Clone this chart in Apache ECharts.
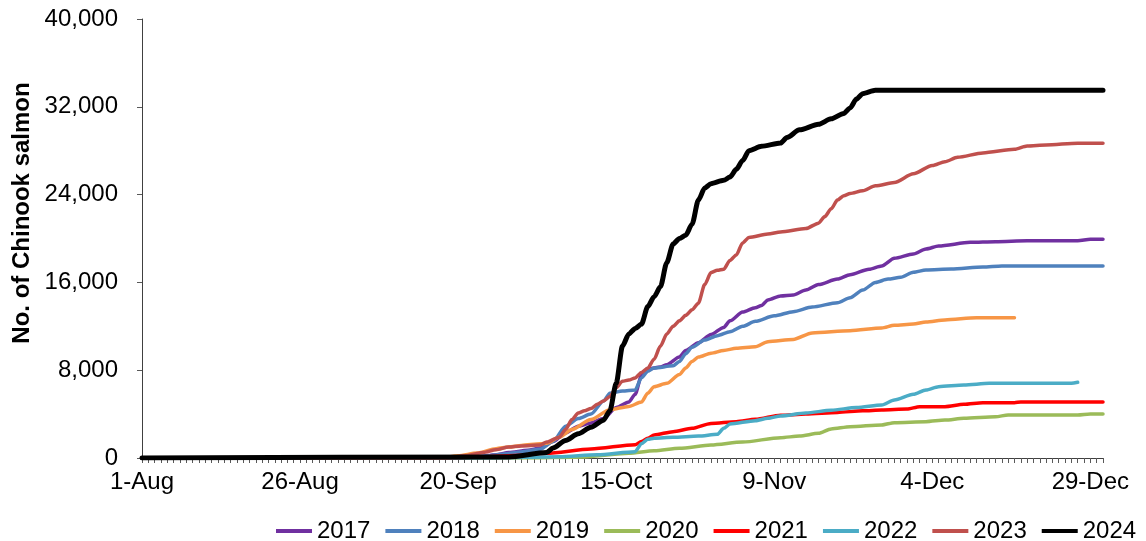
<!DOCTYPE html>
<html>
<head>
<meta charset="utf-8">
<script src="https://cdn.jsdelivr.net/npm/echarts@6/dist/echarts.min.js"></script>
<style>
html,body{margin:0;padding:0;background:#fff;}
#chart{width:1146px;height:541px;}
</style>
</head>
<body>
<div id="chart"></div>
<script>
// Axis categories: daily dates 1-Aug .. 31-Dec
const months = [['Aug', 31], ['Sep', 30], ['Oct', 31], ['Nov', 30], ['Dec', 31]];
const categories = [];
months.forEach(([m, n]) => { for (let d = 1; d <= n; d++) categories.push(d + '-' + m); });

const years = ['2017', '2018', '2019', '2020', '2021', '2022', '2023', '2024'];
const colors = ['#7030A0', '#4F81BD', '#F79646', '#9BBB59', '#FF0000', '#4BACC6', '#C0504D', '#000000'];
const yTicks = [0, 8000, 16000, 24000, 32000, 40000];

// Cumulative counts: [date, value]
const s2017 = [['1-Aug',0],['20-Sep',0],['23-Sep',100],['26-Sep',300],['28-Sep',500],['1-Oct',700],['3-Oct',900],['5-Oct',1500],['7-Oct',2300],['9-Oct',2900],['11-Oct',3200],['13-Oct',3600],['15-Oct',4600],['17-Oct',5100],['18-Oct',5800],['19-Oct',7500],['20-Oct',8100],['22-Oct',8300],['23-Oct',8500],['25-Oct',9200],['26-Oct',9800],['28-Oct',10500],['30-Oct',11250],['1-Nov',11900],['2-Nov',12500],['4-Nov',13300],['6-Nov',13700],['7-Nov',13900],['8-Nov',14400],['10-Nov',14760],['12-Nov',14850],['14-Nov',15300],['16-Nov',15800],['19-Nov',16300],['21-Nov',16700],['24-Nov',17200],['26-Nov',17500],['28-Nov',18200],['1-Dec',18590],['3-Dec',19040],['5-Dec',19320],['10-Dec',19650],['14-Dec',19710],['19-Dec',19800],['27-Dec',19800],['29-Dec',19930],['31-Dec',19930]];
const s2018 = [['1-Aug',0],['20-Sep',0],['24-Sep',150],['27-Sep',350],['30-Sep',550],['3-Oct',800],['5-Oct',1500],['7-Oct',2900],['9-Oct',3600],['11-Oct',4000],['13-Oct',5200],['14-Oct',5900],['16-Oct',6100],['18-Oct',6200],['19-Oct',7300],['20-Oct',7900],['21-Oct',8200],['24-Oct',8400],['25-Oct',8800],['26-Oct',9500],['27-Oct',10100],['29-Oct',10750],['31-Oct',11150],['2-Nov',11500],['4-Nov',12000],['6-Nov',12450],['9-Nov',12950],['12-Nov',13330],['15-Nov',13750],['19-Nov',14150],['21-Nov',14600],['23-Nov',15300],['25-Nov',16000],['27-Nov',16300],['29-Nov',16470],['1-Dec',16920],['3-Dec',17130],['7-Dec',17220],['12-Dec',17400],['15-Dec',17500],['31-Dec',17500]];
const s2019 = [['1-Aug',0],['17-Sep',0],['20-Sep',200],['23-Sep',450],['26-Sep',850],['28-Sep',1000],['30-Sep',1150],['3-Oct',1300],['4-Oct',1350],['6-Oct',1900],['8-Oct',2600],['11-Oct',3500],['14-Oct',4400],['17-Oct',4700],['19-Oct',5100],['20-Oct',5900],['21-Oct',6500],['23-Oct',6800],['25-Oct',7600],['26-Oct',8200],['27-Oct',8800],['28-Oct',9200],['30-Oct',9550],['1-Nov',9800],['3-Nov',10000],['6-Nov',10140],['8-Nov',10600],['12-Nov',10800],['15-Nov',11400],['21-Nov',11600],['26-Nov',11850],['28-Nov',12100],['1-Dec',12200],['3-Dec',12400],['6-Dec',12580],['11-Dec',12780],['17-Dec',12780]];
const s2020 = [['1-Aug',0],['30-Sep',0],['10-Oct',100],['17-Oct',430],['21-Oct',650],['25-Oct',880],['30-Oct',1180],['4-Nov',1450],['10-Nov',1850],['13-Nov',2000],['16-Nov',2250],['18-Nov',2650],['21-Nov',2850],['26-Nov',3010],['28-Nov',3220],['3-Dec',3310],['6-Dec',3460],['9-Dec',3620],['14-Dec',3760],['16-Dec',3920],['27-Dec',3920],['29-Dec',4010],['31-Dec',4010]];
const s2021 = [['1-Aug',0],['20-Sep',0],['24-Sep',120],['30-Sep',250],['4-Oct',430],['11-Oct',820],['18-Oct',1210],['19-Oct',1500],['20-Oct',1800],['21-Oct',2100],['24-Oct',2400],['27-Oct',2700],['30-Oct',3150],['3-Nov',3310],['6-Nov',3520],['10-Nov',3900],['14-Nov',4000],['19-Nov',4150],['23-Nov',4300],['26-Nov',4370],['30-Nov',4460],['2-Dec',4680],['6-Dec',4680],['9-Dec',4890],['12-Dec',5040],['17-Dec',5040],['18-Dec',5100],['31-Dec',5100]];
const s2022 = [['1-Aug',0],['25-Sep',0],['6-Oct',120],['12-Oct',300],['18-Oct',580],['19-Oct',1300],['20-Oct',1700],['21-Oct',1800],['24-Oct',1880],['28-Oct',2000],['31-Oct',2160],['1-Nov',2700],['2-Nov',3100],['6-Nov',3400],['8-Nov',3620],['10-Nov',3830],['14-Nov',4100],['18-Nov',4350],['22-Nov',4600],['26-Nov',4830],['28-Nov',5280],['1-Dec',5800],['3-Dec',6200],['5-Dec',6500],['9-Dec',6650],['13-Dec',6800],['26-Dec',6800],['27-Dec',6900]];
const s2023 = [['1-Aug',0],['18-Sep',0],['21-Sep',200],['24-Sep',500],['26-Sep',750],['28-Sep',1000],['30-Sep',1100],['3-Oct',1180],['4-Oct',1450],['6-Oct',1900],['7-Oct',2600],['8-Oct',3500],['9-Oct',4100],['10-Oct',4300],['11-Oct',4500],['12-Oct',4900],['13-Oct',5200],['14-Oct',5600],['15-Oct',6400],['16-Oct',7000],['17-Oct',7100],['18-Oct',7300],['19-Oct',7800],['20-Oct',8200],['21-Oct',9000],['22-Oct',10200],['23-Oct',11300],['24-Oct',12000],['25-Oct',12500],['26-Oct',13000],['27-Oct',13500],['28-Oct',14100],['29-Oct',15800],['30-Oct',16900],['31-Oct',17100],['1-Nov',17200],['2-Nov',18000],['3-Nov',18500],['4-Nov',19600],['5-Nov',20100],['8-Nov',20400],['10-Nov',20600],['14-Nov',20900],['16-Nov',21400],['17-Nov',22000],['18-Nov',22700],['19-Nov',23500],['20-Nov',23900],['21-Nov',24100],['23-Nov',24350],['25-Nov',24800],['28-Nov',25100],['1-Dec',25900],['4-Dec',26650],['6-Dec',27000],['8-Dec',27400],['12-Dec',27800],['17-Dec',28130],['19-Dec',28430],['22-Dec',28520],['27-Dec',28680],['31-Dec',28680]];
const s2024 = [['1-Aug',0],['28-Sep',100],['4-Oct',500],['5-Oct',900],['7-Oct',1600],['9-Oct',2200],['11-Oct',2800],['13-Oct',3450],['14-Oct',4300],['15-Oct',6800],['16-Oct',10200],['17-Oct',11300],['18-Oct',11800],['19-Oct',12200],['20-Oct',13800],['21-Oct',14700],['22-Oct',15600],['23-Oct',17800],['24-Oct',19500],['25-Oct',20000],['26-Oct',20300],['27-Oct',21300],['28-Oct',23500],['29-Oct',24600],['30-Oct',25000],['1-Nov',25300],['2-Nov',25600],['3-Nov',26300],['4-Nov',27100],['5-Nov',28000],['7-Nov',28400],['10-Nov',28700],['11-Nov',29200],['13-Nov',29900],['16-Nov',30400],['18-Nov',30900],['20-Nov',31400],['21-Nov',31900],['22-Nov',32700],['23-Nov',33200],['25-Nov',33500],['31-Dec',33500]];

const seriesData = [s2017, s2018, s2019, s2020, s2021, s2022, s2023, s2024];
const FONT = '"Liberation Sans", Arial, sans-serif';

const chart = echarts.init(document.getElementById('chart'), null, { renderer: 'canvas' });
chart.setOption({
  animation: false,
  backgroundColor: '#ffffff',
  grid: { left: 142, right: 43, top: 19, bottom: 83, containLabel: false },
  xAxis: {
    type: 'category',
    data: categories,
    boundaryGap: false,
    axisLine: { show: true, lineStyle: { color: '#404040', width: 1 } },
    axisTick: { show: true, interval: 0, length: 5, lineStyle: { color: '#595959' } },
    axisLabel: { interval: 24, margin: 12, color: '#000', fontSize: 24, fontFamily: FONT },
    splitLine: { show: false }
  },
  yAxis: {
    type: 'value',
    min: yTicks[0],
    max: yTicks[yTicks.length - 1],
    interval: yTicks[1] - yTicks[0],
    axisLine: { show: true, lineStyle: { color: '#404040', width: 1 } },
    axisTick: { show: true, length: 5, lineStyle: { color: '#595959' } },
    axisLabel: {
      margin: 24, color: '#000', fontSize: 24, fontFamily: FONT,
      formatter: v => v.toLocaleString('en-US')
    },
    splitLine: { show: false }
  },
  legend: {
    data: years.map((y, i) => ({ name: y, icon: 'rect', itemStyle: { color: colors[i] } })),
    left: 271,
    top: 514,
    width: 875,
    itemWidth: 36,
    itemHeight: 4,
    itemGap: 15,
    textStyle: { color: '#000', fontSize: 24, fontFamily: FONT }
  },
  graphic: [{
    type: 'text',
    x: 22, y: 213,
    rotation: Math.PI / 2,
    style: {
      text: 'No. of Chinook salmon',
      font: 'bold 24px "Liberation Sans", Arial, sans-serif',
      fill: '#000',
      align: 'center',
      verticalAlign: 'middle'
    }
  }],
  series: years.map((y, i) => ({
    name: y,
    type: 'line',
    data: seriesData[i],
    showSymbol: false,
    symbol: 'none',
    smooth: 0.25,
    smoothMonotone: 'x',
    color: colors[i],
    lineStyle: { color: colors[i], width: y === '2024' ? 5 : 3.5, cap: 'round', join: 'round' },
    z: 2 + i
  }))
});
</script>
</body>
</html>
